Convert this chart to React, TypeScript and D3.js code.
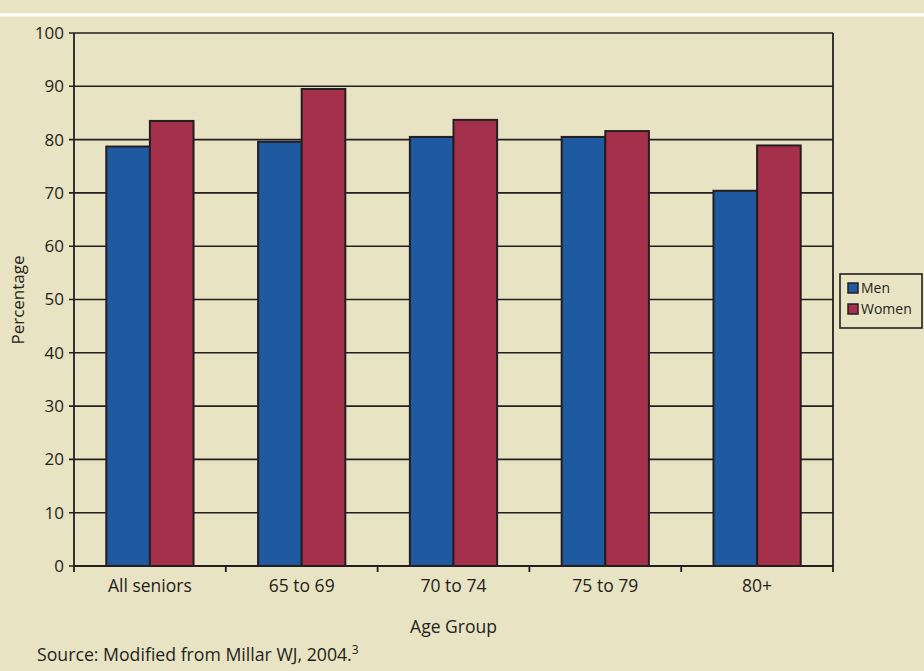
import React from "react";
import * as d3 from "d3";

// age groups and percentages
const categories = ["All seniors", "65 to 69", "70 to 74", "75 to 79", "80+"];
const seriesNames = ["Men", "Women"];
const menValues = [78.7, 79.6, 80.5, 80.5, 70.4];
const womenValues = [83.5, 89.5, 83.7, 81.6, 78.9];
const yTicks = [0, 10, 20, 30, 40, 50, 60, 70, 80, 90, 100];

const colors = ["#1F5AA1", "#A4304C"];
const bg = "#E8E3C2";
const ink = "#231F20";
const font = "'Open Sans', 'Noto Sans', sans-serif";

export default function App() {
    const width = 924;
    const height = 671;
    const margin = {top: 33, left: 74, right: 833, bottom: 566};

    const x = d3.scaleBand<string>()
        .domain(categories)
        .range([margin.left, margin.right]);

    const inner = d3.scaleBand<string>()
        .domain(seriesNames)
        .range([0, x.bandwidth()])
        .paddingInner(0)
        .paddingOuter(0.74);

    const y = d3.scaleLinear()
        .domain([0, 100])
        .range([margin.bottom, margin.top]);

    const rows = categories.map((c, i) => ({
        name: c,
        values: [menValues[i], womenValues[i]]
    }));

    const boundaries = categories.map(c => x(c) as number).concat([margin.right]);

    return (
        <svg width={width} height={height} style={{position: "absolute", left: 0, top: 0}}
             fontFamily={font}>
            <rect x={0} y={0} width={width} height={height} fill={bg}/>
            <rect x={0} y={13} width={width} height={3.5} fill="#ffffff"/>

            {/* gridlines */}
            {yTicks.map(t => (
                <line key={"g" + t} x1={margin.left - 5} x2={margin.right} y1={y(t)} y2={y(t)}
                      stroke={ink} strokeWidth={1.6}/>
            ))}
            {yTicks.map(t => (
                <text key={"l" + t} x={margin.left - 10} y={y(t)} dy="0.35em" textAnchor="end"
                      fontSize={17} fill={ink}>{t}</text>
            ))}

            {/* bars */}
            {rows.map(r => (
                <g key={r.name} transform={"translate(" + x(r.name) + ",0)"}>
                    {r.values.map((v, j) => (
                        <rect key={j} x={inner(seriesNames[j])} y={y(v)}
                              width={inner.bandwidth()} height={y(0) - y(v)}
                              fill={colors[j]} stroke={ink} strokeWidth={2}/>
                    ))}
                </g>
            ))}

            {/* frame */}
            <line x1={margin.left} x2={margin.left} y1={margin.top} y2={margin.bottom} stroke={ink} strokeWidth={1.8}/>
            <line x1={margin.right} x2={margin.right} y1={margin.top} y2={margin.bottom} stroke={ink} strokeWidth={1.8}/>
            <line x1={margin.left} x2={margin.right} y1={margin.bottom} y2={margin.bottom} stroke={ink} strokeWidth={1.8}/>
            {boundaries.map((b, i) => (
                <line key={"t" + i} x1={b} x2={b} y1={margin.bottom} y2={margin.bottom + 6}
                      stroke={ink} strokeWidth={1.8}/>
            ))}

            {/* category labels */}
            {categories.map(c => (
                <text key={c} x={(x(c) as number) + x.bandwidth() / 2} y={592} textAnchor="middle"
                      fontSize={17.5} fill={ink}>{c}</text>
            ))}

            <text x={(margin.left + margin.right) / 2} y={633} textAnchor="middle" fontSize={17.5} fill={ink}>Age Group</text>
            <text transform="translate(24,300) rotate(-90)" textAnchor="middle" fontSize={17} fill={ink}>Percentage</text>

            <text x={37} y={661} fontSize={17.7} fill={ink}>
                Source: Modified from Millar WJ, 2004.<tspan dy={-7} fontSize={12}>3</tspan>
            </text>

            {/* legend */}
            <rect x={840} y={274} width={82} height={54} fill={bg} stroke={ink} strokeWidth={1.6}/>
            {seriesNames.map((s, i) => (
                <g key={s} transform={"translate(848," + (283 + i * 21) + ")"}>
                    <rect x={0} y={0} width={10} height={10} fill={colors[i]} stroke={ink} strokeWidth={1.5}/>
                    <text x={13} y={5} dy="0.35em" fontSize={14} fill={ink}>{s}</text>
                </g>
            ))}
        </svg>
    );
}
